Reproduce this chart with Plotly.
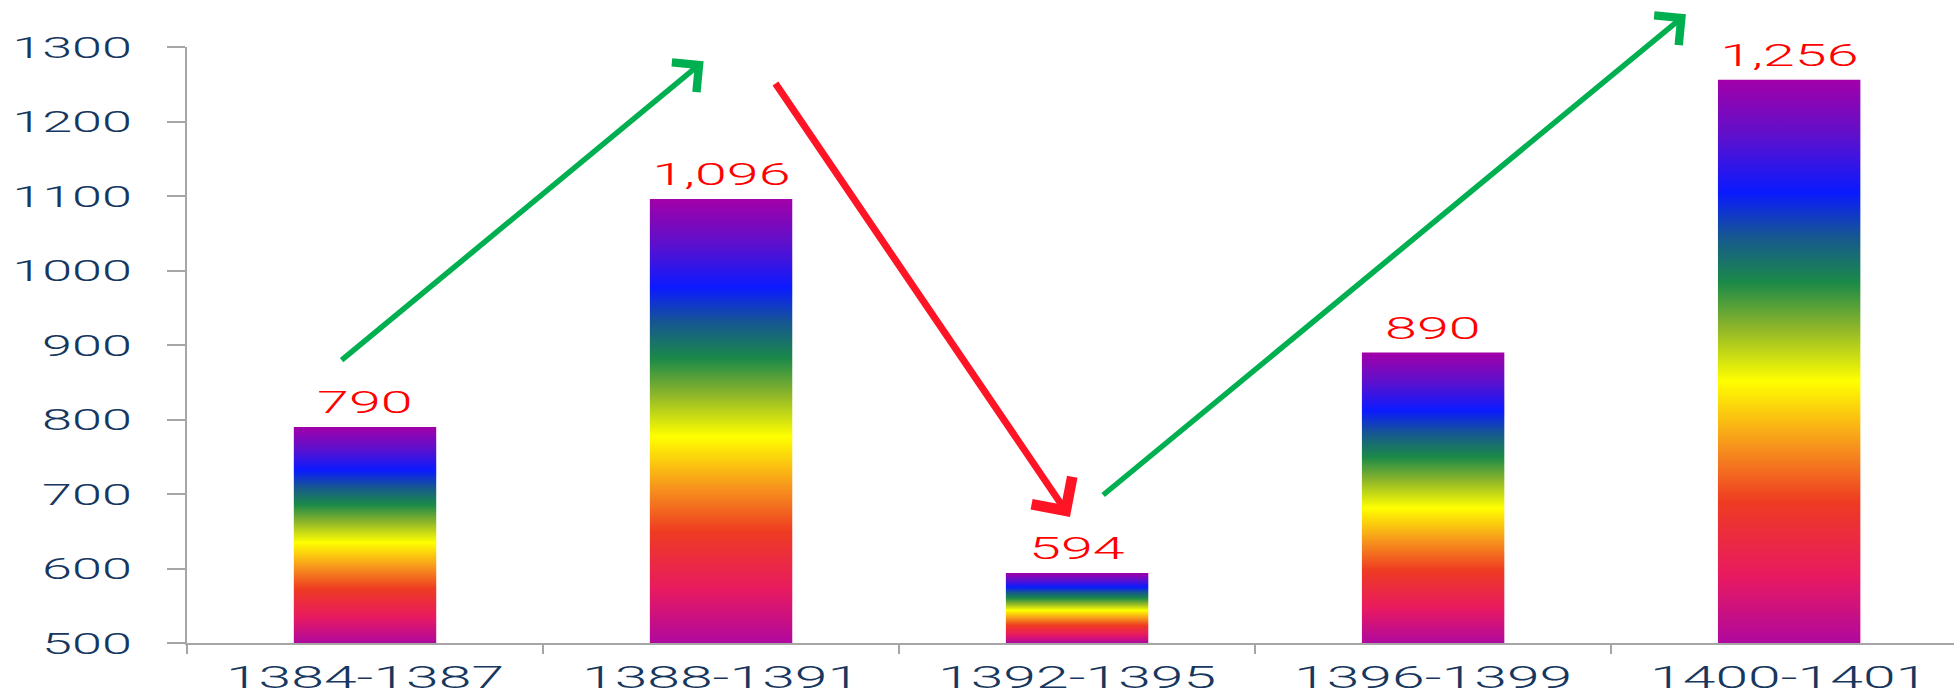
import plotly.graph_objects as go

# ---- data -------------------------------------------------------------
categories = ["1384-1387", "1388-1391", "1392-1395", "1396-1399", "1400-1401"]
values = [790, 1096, 594, 890, 1256]
y_ticks = [500, 600, 700, 800, 900, 1000, 1100, 1200, 1300]

# trend arrows: (tail x, tail y, head x, head y, colour, width) in axis units
trend_arrows = [
    (-0.07, 878, 0.951, 1281, "#00B050", 5.5),
    (1.150, 1253, 1.980, 669, "#FF1426", 7),
    (2.069, 697, 3.710, 1344, "#00B050", 5.5),
]

# ---- style ------------------------------------------------------------
FONT = "Roboto"
NAVY = "#17375E"
LABEL_RED = "#FF0000"
AXIS_GRAY = "#A6A6A6"
BASE = 500
BAR_W = 0.4
RAINBOW = [
    [0.00, "#B0089E"],
    [0.12, "#E81A60"],
    [0.25, "#EE3B22"],
    [0.35, "#F7941D"],
    [0.465, "#FFFF00"],
    [0.56, "#8DB52A"],
    [0.64, "#1B8A48"],
    [0.72, "#16588F"],
    [0.80, "#0A1AFF"],
    [0.90, "#5E10CC"],
    [1.00, "#A200A8"],
]

fig = go.Figure()

# gradient-filled bars, each one spanning the full rainbow from base to top
for i, (cat, v) in enumerate(zip(categories, values)):
    x0, x1 = i - BAR_W / 2, i + BAR_W / 2
    fig.add_trace(go.Scatter(
        x=[x0, x1, x1, x0, x0],
        y=[BASE, BASE, v, v, BASE],
        mode="lines",
        fill="toself",
        line=dict(width=0),
        fillgradient=dict(type="vertical", colorscale=RAINBOW, start=BASE, stop=v),
        hoverinfo="skip",
        name=cat,
    ))
    fig.add_annotation(
        x=i, y=v, text=f"{v:,}", showarrow=False,
        yanchor="middle", yshift=24,
        font=dict(family=FONT, size=31, color=LABEL_RED, weight=300),
    )

for tx, ty, hx, hy, col, w in trend_arrows:
    fig.add_annotation(
        x=hx, y=hy, ax=tx, ay=ty, xref="x", yref="y", axref="x", ayref="y",
        text="", showarrow=True, arrowhead=4, arrowsize=1.35,
        arrowwidth=w, arrowcolor=col,
    )

n = len(categories)
fig.update_layout(
    width=1954, height=694,
    margin=dict(l=187, r=0, t=47, b=51),
    paper_bgcolor="white", plot_bgcolor="white",
    showlegend=False,
    font=dict(family=FONT, color=NAVY, weight=300),
    xaxis=dict(
        range=[-0.5, 4.463],
        tickvals=list(range(n)), ticktext=categories,
        ticks="", showgrid=False, zeroline=False, automargin=False,
        showline=True, linecolor=AXIS_GRAY, linewidth=2,
        tickfont=dict(family=FONT, size=31, color=NAVY, weight=300),
        ticklabelstandoff=6,
        minor=dict(tickvals=[i - 0.5 for i in range(n + 1)], ticks="outside",
                   ticklen=9, tickcolor=AXIS_GRAY, tickwidth=1.5, showgrid=False),
    ),
    yaxis=dict(
        range=[BASE, 1300],
        tickvals=y_ticks, automargin=False,
        ticks="outside", ticklen=18, tickcolor=AXIS_GRAY, tickwidth=1.5,
        showgrid=False, zeroline=False,
        showline=True, linecolor=AXIS_GRAY, linewidth=2,
        tickfont=dict(family=FONT, size=30, color=NAVY, weight=300),
        ticklabelstandoff=29,
    ),
)

# widen the lettering horizontally around each label's anchor point
stretch_js = """
var gd = document.getElementById('{plot_id}');
function stretchText(selector, S) {
  var svg = gd.querySelector('svg.main-svg');
  gd.querySelectorAll(selector).forEach(function (el) {
    var p = el.parentNode;
    if (p.getAttribute('class') === 'stretch-wrap') return;
    if (!el.textContent) return;
    var r = el.getBoundingClientRect();
    var anchor = el.getAttribute('text-anchor') || 'start';
    var sx = anchor === 'middle' ? r.left + r.width / 2 : (anchor === 'end' ? r.right : r.left);
    var pt = svg.createSVGPoint();
    pt.x = sx; pt.y = r.top;
    var lp = pt.matrixTransform(p.getScreenCTM().inverse());
    var g = document.createElementNS('http://www.w3.org/2000/svg', 'g');
    g.setAttribute('class', 'stretch-wrap');
    g.setAttribute('transform', 'translate(' + lp.x + ',0) scale(' + S + ',1) translate(' + (-lp.x) + ',0)');
    p.insertBefore(g, el);
    g.appendChild(el);
  });
}
stretchText('.ytick text', 1.8);
stretchText('.xtick text', 1.9);
stretchText('.annotation-text', 1.85);
"""

fig.write_html("out.html", post_script=stretch_js, config={"displayModeBar": False})
